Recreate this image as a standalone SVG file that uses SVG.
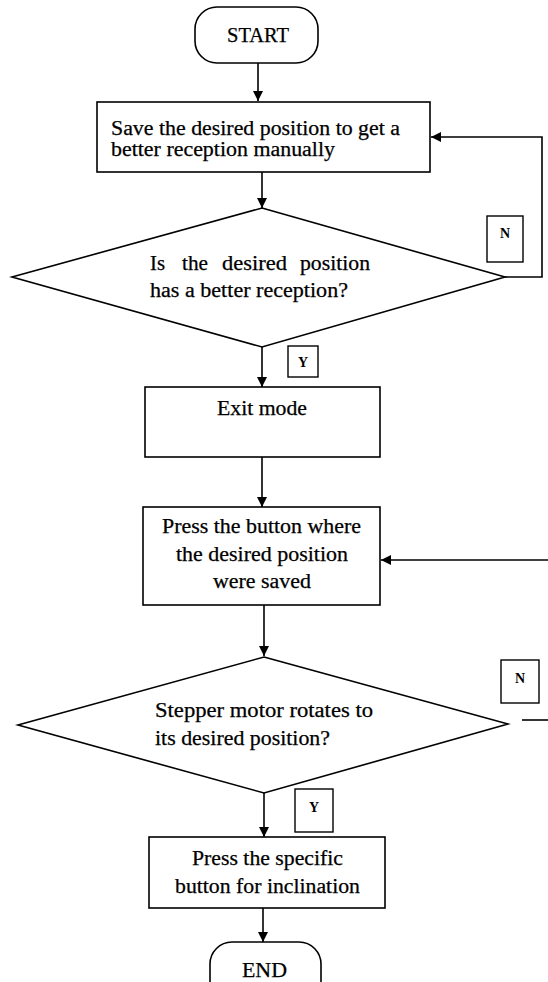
<svg xmlns="http://www.w3.org/2000/svg" width="548" height="982" viewBox="0 0 548 982">
  <style>
    .shape { fill: #ffffff; stroke: #000000; stroke-width: 1.6; }
    .tag { fill: #ffffff; stroke: #000000; stroke-width: 1.4; }
    .line { fill: none; stroke: #000000; stroke-width: 1.6; }
    text { font-family: "Liberation Serif", "Times New Roman", serif; fill: #000000; stroke: #000000; stroke-width: 0.25; }
    .t { font-size: 20px; }
    .lbl { font-size: 14px; text-anchor: middle; font-weight: bold; stroke-width: 0; }
  </style>
  <defs>
    <marker id="arrow" viewBox="0 0 10 10" refX="10" refY="5" markerWidth="10" markerHeight="10" markerUnits="userSpaceOnUse" orient="auto">
      <path d="M0,0 L10,5 L0,10 Z" fill="#000000"/>
    </marker>
  </defs>
  <rect width="548" height="982" fill="#ffffff"/>

  <!-- connectors -->
  <g id="connectors">
    <path class="line" d="M258,63 V101" marker-end="url(#arrow)"/>
    <path class="line" d="M262,172 V208" marker-end="url(#arrow)"/>
    <path class="line" d="M505,277 H542 V137 H431" marker-end="url(#arrow)"/>
    <path class="line" d="M262,347 V387" marker-end="url(#arrow)"/>
    <path class="line" d="M262,457 V507" marker-end="url(#arrow)"/>
    <path class="line" d="M548,560 H381" marker-end="url(#arrow)"/>
    <path class="line" d="M264,605 V656" marker-end="url(#arrow)"/>
    <path class="line" d="M522,720 H548"/>
    <path class="line" d="M264,793 V837" marker-end="url(#arrow)"/>
    <path class="line" d="M263,908 V942" marker-end="url(#arrow)"/>
  </g>

  <g id="start">
    <rect class="shape" x="195" y="7" width="123" height="56" rx="22" ry="22"/>
    <text class="t" x="227" y="42" textLength="62" lengthAdjust="spacingAndGlyphs">START</text>
  </g>

  <g id="save-position">
    <rect class="shape" x="97" y="102" width="333" height="70"/>
    <text class="t" x="111" y="135" textLength="289" lengthAdjust="spacingAndGlyphs">Save the desired position to get a</text>
    <text class="t" x="111" y="156" textLength="224" lengthAdjust="spacingAndGlyphs">better reception manually</text>
  </g>

  <g id="check-reception">
    <polygon class="shape" points="262,208 505,277 262,347 12,277"/>
    <!-- justified first line: words placed individually -->
    <text class="t" x="150" y="270" textLength="15" lengthAdjust="spacingAndGlyphs">Is</text>
    <text class="t" x="182" y="270" textLength="26" lengthAdjust="spacingAndGlyphs">the</text>
    <text class="t" x="222" y="270" textLength="65" lengthAdjust="spacingAndGlyphs">desired</text>
    <text class="t" x="300" y="270" textLength="70" lengthAdjust="spacingAndGlyphs">position</text>
    <text class="t" x="150" y="297" textLength="198" lengthAdjust="spacingAndGlyphs">has a better reception?</text>
  </g>

  <g id="label-n1">
    <rect class="tag" x="487" y="216" width="36" height="46"/>
    <text class="lbl" x="505" y="238">N</text>
  </g>

  <g id="label-y1">
    <rect class="tag" x="288" y="346" width="30" height="31"/>
    <text class="lbl" x="303" y="367">Y</text>
  </g>

  <g id="exit-mode">
    <rect class="shape" x="145" y="387" width="235" height="70"/>
    <text class="t" x="217" y="415" textLength="90" lengthAdjust="spacingAndGlyphs">Exit mode</text>
  </g>

  <g id="press-button">
    <rect class="shape" x="143" y="507" width="237" height="98"/>
    <text class="t" x="162" y="533" textLength="199" lengthAdjust="spacingAndGlyphs">Press the button where</text>
    <text class="t" x="176" y="561" textLength="172" lengthAdjust="spacingAndGlyphs">the desired position</text>
    <text class="t" x="213" y="588" textLength="98" lengthAdjust="spacingAndGlyphs">were saved</text>
  </g>

  <g id="check-rotation">
    <polygon class="shape" points="264,657 508,724 264,793 18,725"/>
    <text class="t" x="155" y="717" textLength="218" lengthAdjust="spacingAndGlyphs">Stepper motor rotates to</text>
    <text class="t" x="155" y="745" textLength="175" lengthAdjust="spacingAndGlyphs">its desired position?</text>
  </g>

  <g id="label-n2">
    <rect class="tag" x="501" y="660" width="38" height="43"/>
    <text class="lbl" x="520" y="683">N</text>
  </g>

  <g id="label-y2">
    <rect class="tag" x="295" y="789" width="38" height="43"/>
    <text class="lbl" x="314" y="812">Y</text>
  </g>

  <g id="press-specific">
    <rect class="shape" x="149" y="837" width="236" height="71"/>
    <text class="t" x="192" y="865" textLength="151" lengthAdjust="spacingAndGlyphs">Press the specific</text>
    <text class="t" x="175" y="893" textLength="185" lengthAdjust="spacingAndGlyphs">button for inclination</text>
  </g>

  <g id="end">
    <rect class="shape" x="210" y="942" width="111" height="70" rx="22" ry="22"/>
    <text class="t" x="242" y="977" textLength="45" lengthAdjust="spacingAndGlyphs">END</text>
  </g>
</svg>
